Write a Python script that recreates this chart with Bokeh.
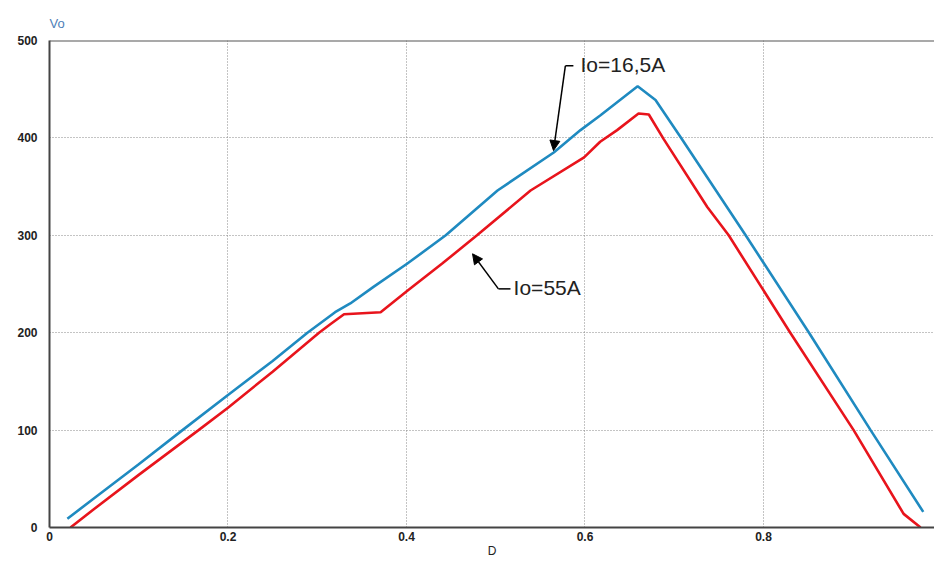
from bokeh.plotting import figure
from bokeh.models import (Range1d, FixedTicker, Span, Label, Arrow, NormalHead,
                          ColumnDataSource)
from bokeh.embed import file_html
from bokeh.resources import INLINE

# Duty cycle D vs output voltage Vo
d_low = [0.020, 0.050, 0.100, 0.149, 0.200, 0.250, 0.289, 0.320, 0.337, 0.363,
         0.401, 0.444, 0.502, 0.565, 0.595, 0.617, 0.659, 0.679, 0.707, 0.780,
         0.851, 0.920, 0.979]
v_low = [9, 30, 65, 100, 136, 171, 200, 221, 230, 247,
         271, 300, 346, 385, 408, 423, 453, 439, 401, 300,
         200, 100, 16]

d_high = [0.0235, 0.050, 0.100, 0.167, 0.200, 0.250, 0.302, 0.315, 0.330, 0.371,
          0.401, 0.440, 0.479, 0.539, 0.599, 0.617, 0.636, 0.660, 0.6715, 0.688,
          0.737, 0.761, 0.830, 0.901, 0.957, 0.976]
v_high = [0, 19, 54, 100, 123, 160, 200, 209, 219, 221,
          243, 271, 300, 346, 380, 396, 408, 425, 424, 399,
          329, 300, 200, 100, 14, 0]

x_ticks = [0, 0.2, 0.4, 0.6, 0.8]
y_ticks = [0, 100, 200, 300, 400, 500]
label_low = "Io=16,5A"
label_high = "Io=55A"

FONT = "Liberation Sans"

p = figure(width=934, height=563, output_backend="svg", toolbar_location=None,
           x_range=Range1d(0, 0.9916), y_range=Range1d(0, 500),
           min_border_left=49, min_border_right=0, min_border_top=40,
           min_border_bottom=36, background_fill_color="white",
           border_fill_color="white", title="Vo")
p.outline_line_color = None

p.title.text_font = FONT
p.title.text_font_size = "13px"
p.title.text_font_style = "normal"
p.title.text_color = "#4f7fb8"
p.title.align = "left"
p.title.standoff = 19

for ax in (p.xaxis[0], p.yaxis[0]):
    ax.axis_line_color = "#444444"
    ax.axis_line_width = 2
    ax.major_tick_line_color = None
    ax.minor_tick_line_color = None
    ax.major_tick_in = 0
    ax.major_tick_out = 0
    ax.minor_tick_in = 0
    ax.minor_tick_out = 0
    ax.major_label_text_font = FONT
    ax.major_label_text_font_style = "bold"
    ax.major_label_text_font_size = "12px"
    ax.major_label_text_color = "#222222"
    ax.major_label_text_line_height = 1.0

p.xaxis.ticker = FixedTicker(ticks=x_ticks)
p.yaxis.ticker = FixedTicker(ticks=y_ticks)
p.xaxis.major_label_standoff = 4
p.yaxis.major_label_standoff = 12
p.xaxis.major_label_overrides = {0: "0", 0.2: "0.2", 0.4: "0.4", 0.6: "0.6", 0.8: "0.8"}

p.xaxis.axis_label = "D"
p.xaxis.axis_label_text_font = FONT
p.xaxis.axis_label_text_font_size = "12px"
p.xaxis.axis_label_text_font_style = "normal"
p.xaxis.axis_label_text_color = "#222222"
p.xaxis.axis_label_text_line_height = 1.0
p.xaxis.axis_label_standoff = 0

p.xgrid.grid_line_color = "#888888"
p.ygrid.grid_line_color = "#888888"
p.xgrid.grid_line_dash = "1 2"
p.ygrid.grid_line_dash = "1 2"
p.xgrid.grid_line_width = 1
p.ygrid.grid_line_width = 1

p.add_layout(Span(location=500, dimension="width", line_color="#555555", line_width=2))

src_low = ColumnDataSource(dict(x=d_low, y=v_low))
src_high = ColumnDataSource(dict(x=d_high, y=v_high))
p.line("x", "y", source=src_low, line_color="#1f8ac0", line_width=2.6)
p.line("x", "y", source=src_high, line_color="#e8141c", line_width=2.6)

# Annotation: Io=16,5A
p.line([0.587, 0.578], [474, 474], line_color="black", line_width=1.5)
p.add_layout(Arrow(x_start=0.578, y_start=474, x_end=0.5647, y_end=387,
                   line_color="black", line_width=1.5,
                   end=NormalHead(size=10, fill_color="black", line_color="black")))
p.add_layout(Label(x=0.595, y=475, text=label_low, text_font=FONT,
                   text_font_size="21px", text_color="#222222",
                   text_baseline="middle"))

# Annotation: Io=55A
p.line([0.5165, 0.503], [245, 245], line_color="black", line_width=1.5)
p.add_layout(Arrow(x_start=0.503, y_start=245, x_end=0.474, y_end=281,
                   line_color="black", line_width=1.5,
                   end=NormalHead(size=10, fill_color="black", line_color="black")))
p.add_layout(Label(x=0.520, y=246, text=label_high, text_font=FONT,
                   text_font_size="21px", text_color="#222222",
                   text_baseline="middle"))

open("out.html", "w").write(file_html(p, INLINE))
